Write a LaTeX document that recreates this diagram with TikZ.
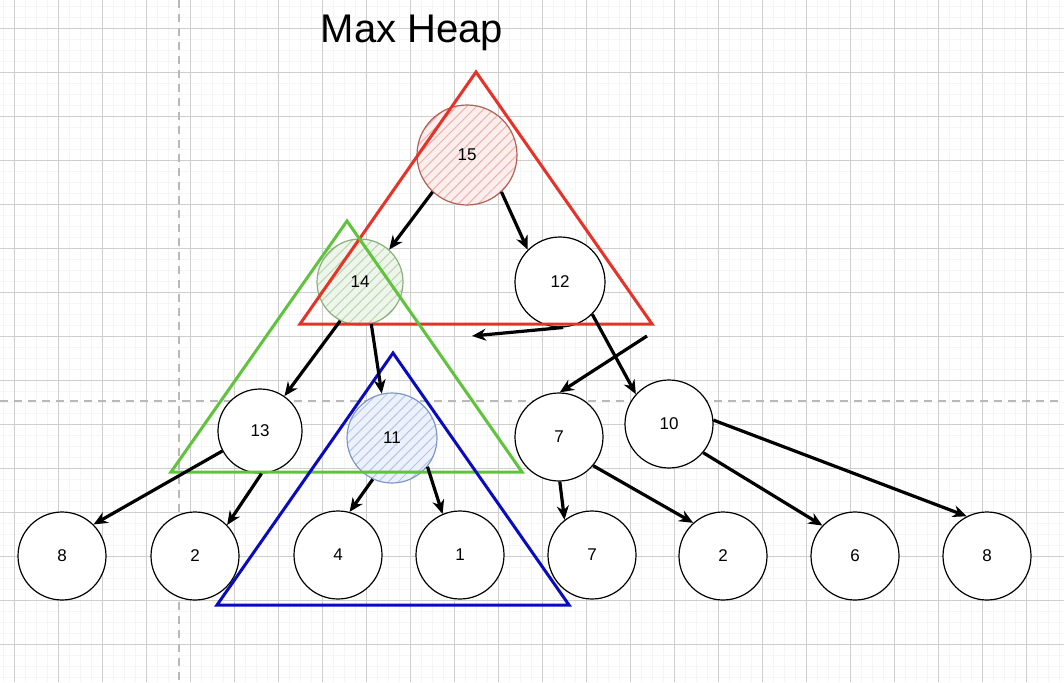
\documentclass[tikz,border=0pt]{standalone}
\usepackage{fontspec}
\setmainfont{Liberation Sans}
\usetikzlibrary{arrows.meta,patterns.meta}
\definecolor{heapred}{RGB}{230,50,40}
\definecolor{heapgreen}{RGB}{95,195,60}
\definecolor{heapblue}{RGB}{10,10,190}
\definecolor{gridmajor}{RGB}{206,206,206}
\definecolor{gridminor}{RGB}{245,245,245}
\definecolor{rootline}{RGB}{180,95,88}
\definecolor{rootfill}{RGB}{252,238,236}
\definecolor{rootpat}{RGB}{236,178,172}
\definecolor{leftline}{RGB}{140,176,125}
\definecolor{leftfill}{RGB}{238,245,234}
\definecolor{leftpat}{RGB}{188,214,178}
\definecolor{subline}{RGB}{125,152,200}
\definecolor{subfill}{RGB}{236,241,251}
\definecolor{subpat}{RGB}{180,198,232}

\begin{document}
\begin{tikzpicture}[x=1pt,y=-1pt,
    key/.style={circle, draw=black, line width=1.2pt, fill=white, minimum size=#1,
      inner sep=0pt, font=\fontsize{17}{17}\selectfont},
    key/.default=88pt,
    hatched/.style 2 args={preaction={fill=#1},
      pattern={Lines[angle=45, distance=7pt, line width=1pt]}, pattern color=#2},
    link/.style={black, line width=3.2pt, -{Stealth[length=14pt,width=12pt]}},
    frame/.style={line width=3pt, line join=miter}]
     \useasboundingbox (0,0) rectangle (1064,682);
     % background grid
     \fill[white] (0,0) rectangle (1064,682);
     \foreach \i in {0,...,96} \draw[gridminor, line width=1.5pt] (3.3+11*\i,0) -- (3.3+11*\i,682);
     \foreach \i in {0,...,62} \draw[gridminor, line width=1.5pt] (0,6.3+11*\i) -- (1064,6.3+11*\i);
     \foreach \i in {0,...,24} \draw[gridmajor, line width=1pt] (14.3+44*\i,0) -- (14.3+44*\i,682);
     \foreach \i in {0,...,15} \draw[gridmajor, line width=1pt] (0,28.3+44*\i) -- (1064,28.3+44*\i);
     \draw[gridmajor!90!black, line width=2pt, dash pattern=on 8pt off 6pt] (179,0) -- (179,682);
     \draw[gridmajor!90!black, line width=2pt, dash pattern=on 8pt off 6pt] (0,401) -- (1064,401);

     \node[font=\fontsize{40}{40}\selectfont] (title) at (412,33) {Max Heap};

     % keys
     \node[key=100pt, draw=rootline, hatched={rootfill}{rootpat}] (n15) at (467,155) {15};
     \node[key=86pt, draw=leftline, hatched={leftfill}{leftpat}] (n14) at (360,282) {14};
     \node[key=90pt] (n12) at (560,282) {12};
     \node[key=84pt] (n13) at (260,431) {13};
     \node[key=90pt, draw=subline, hatched={subfill}{subpat}] (n11) at (392,438) {11};
     \node[key] (n7) at (559,437) {7};
     \node[key] (n10) at (669,424) {10};
     \node[key] (l8) at (62,556) {8};
     \node[key] (l2) at (195,556) {2};
     \node[key] (l4) at (338,555) {4};
     \node[key] (l1) at (460,555) {1};
     \node[key] (l7) at (592,555) {7};
     \node[key] (r2) at (723,556) {2};
     \node[key] (l6) at (855,556) {6};
     \node[key] (r8) at (987,556) {8};

     % sub-heaps
     \draw[frame, heapred] (476,72) -- (652,324) -- (300,324) -- cycle;
     \draw[frame, heapgreen] (347,221) -- (522,472) -- (171,472) -- cycle;
     \draw[frame, heapblue] (393,353) -- (569,605) -- (217,605) -- cycle;

     % links
     \coordinate (c1) at (472,336);
     \coordinate (c2) at (647,336);
     \draw[link] (n15.-133) -- (n14.48);
     \draw[link] (n15.-47) -- (n12.135);
     \draw[link] (n12.-86) -- (c1);
     \draw[link] (c2) -- (n7.89);
     \draw[link] (n12.-45) -- (n10.138);
     \draw[link] (n14.-117) -- (n13.55);
     \draw[link] (n14.-75) -- (n11.103);
     \draw[link] (n13.-152) -- (l8.45);
     \draw[link] (n13.-88) -- (l2.44);
     \draw[link] (n11.-115) -- (l4.75);
     \draw[link] (n11.-39) -- (l1.113);
     \draw[link] (n7.-89) -- (l7.128);
     \draw[link] (n7.-40) -- (r2.132);
     \draw[link] (n10.-40) -- (l6.137);
     \draw[link] (n10.5) -- (r8.117);
    \end{tikzpicture}
\end{document}
